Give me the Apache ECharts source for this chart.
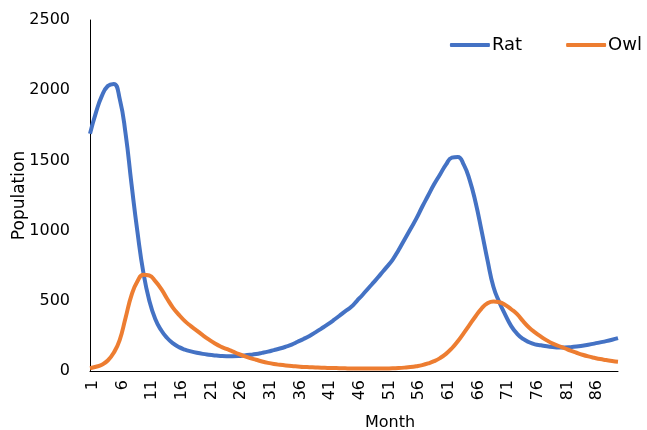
<!DOCTYPE html>
<html lang="en">
<head>
    <meta charset="UTF-8">
    <title>Rat and Owl</title>
    <script src="https://cdn.jsdelivr.net/npm/echarts@6/dist/echarts.min.js"></script>
    <style>
        html, body { margin: 0; padding: 0; background: #fff; }
    </style>
</head>
<body>

<div id="main" style="width:647px;height:430px"></div>
<script type="text/javascript">

    // months 1..90
    var months = [];
    for (var m = 1; m <= 90; m++) months.push(String(m));

    var yTicks = [0, 500, 1000, 1500, 2000, 2500];

    var rat = [
        1690, 1840, 1960, 2030, 2045, 1940, 1690, 1330, 990, 700,
        500, 370, 290, 235, 197, 170, 152, 140, 130, 122,
        116, 111, 107, 105, 105, 106, 110, 115, 121, 129,
        138, 149, 160, 173, 188, 208, 228, 250, 275, 302,
        330, 360, 392, 425, 455, 500, 545, 593, 640, 690,
        740, 792, 860, 935, 1010, 1085, 1170, 1250, 1330, 1400,
        1470, 1520, 1525, 1470, 1360, 1200, 1000, 790, 600, 490,
        400, 320, 265, 228, 205, 190, 183, 176, 171, 168,
        168, 170, 174, 180, 187, 195, 204, 213, 223, 234
    ];

    var owl = [
        20, 30, 45, 75, 130, 220, 380, 540, 640, 685,
        680, 640, 585, 515, 450, 400, 355, 320, 288, 255,
        225, 198, 175, 157, 140, 122, 106, 92, 80, 68,
        58, 50, 44, 39, 35, 32, 29, 27, 25, 23,
        22, 21, 20, 19, 18, 18, 17, 17, 17, 17,
        18, 19, 21, 24, 28, 34, 42, 54, 70, 92,
        122, 162, 212, 270, 330, 390, 445, 482, 495, 490,
        470, 440, 405, 355, 310, 275, 245, 218, 195, 178,
        162, 145, 130, 116, 104, 94, 85, 78, 71, 66
    ];

    var font = 'DejaVu Sans, Verdana, sans-serif';

    var chart = echarts.init(document.getElementById('main'));
    var option = {
        animation: false,
        textStyle: { fontFamily: font },
        grid: { left: 90, right: 29, top: 20, bottom: 59, containLabel: false, outerBoundsMode: 'none' },
        legend: {
            right: 0,
            top: 31,
            icon: 'roundRect',
            itemWidth: 40,
            itemHeight: 4,
            itemGap: 44,
            textStyle: { fontSize: 18, color: '#000', fontFamily: font, padding: [0, 0, 0, -3] },
            data: ['Rat', 'Owl']
        },
        xAxis: {
            type: 'category',
            data: months,
            boundaryGap: false,
            name: 'Month',
            nameLocation: 'middle',
            nameGap: 44,
            nameTextStyle: { fontSize: 16, color: '#000', fontFamily: font, padding: [0, 0, 0, 72] },
            axisLine: { lineStyle: { color: '#000', width: 1 } },
            axisTick: { show: false },
            axisLabel: {
                interval: 4, rotate: 90, fontSize: 16, color: '#000', fontFamily: font, margin: 9,
                verticalAlign: 'top', lineHeight: 6
            },
            splitLine: { show: false }
        },
        yAxis: {
            type: 'value',
            min: yTicks[0],
            max: yTicks[yTicks.length - 1],
            interval: 500,
            name: 'Population',
            nameLocation: 'middle',
            nameGap: 62,
            nameMoveOverlap: false,
            nameTextStyle: { fontSize: 17, color: '#000', fontFamily: font },
            axisLine: { show: true, lineStyle: { color: '#000', width: 1 } },
            axisTick: { show: false },
            axisLabel: {
                fontSize: 16, color: '#000', fontFamily: font, margin: 20,
                formatter: function (v) { return String(v); }
            },
            splitLine: { show: false }
        },
        series: [
            {
                name: 'Rat',
                type: 'line',
                data: rat,
                smooth: true,
                showSymbol: false,
                itemStyle: { color: '#4472C4' },
                lineStyle: { color: '#4472C4', width: 4 }
            },
            {
                name: 'Owl',
                type: 'line',
                data: owl,
                smooth: true,
                showSymbol: false,
                itemStyle: { color: '#ED7D31' },
                lineStyle: { color: '#ED7D31', width: 4 }
            }
        ]
    };
    chart.setOption(option);

</script>

</body>
</html>
